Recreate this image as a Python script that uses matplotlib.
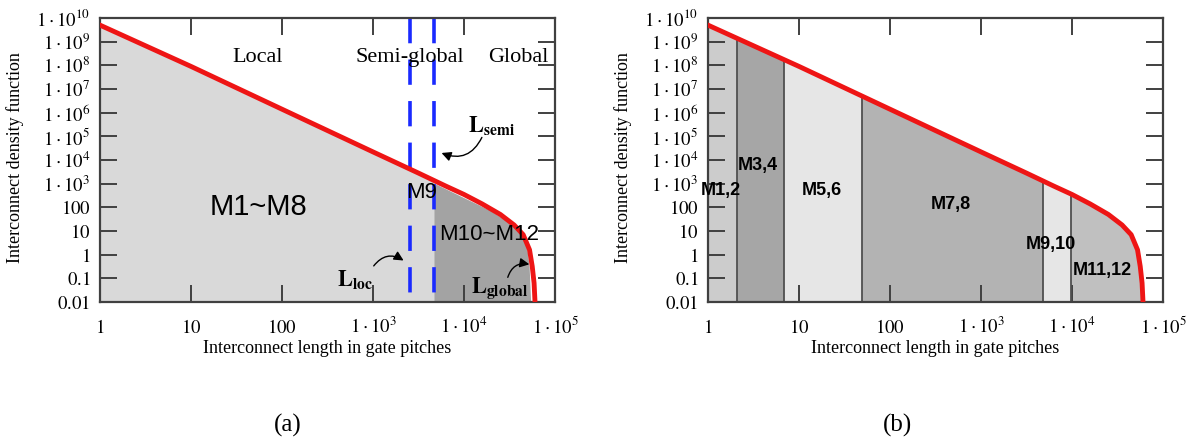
import matplotlib
matplotlib.use("Agg")
import matplotlib.pyplot as plt
from matplotlib.patches import Rectangle
from matplotlib.ticker import FixedLocator, NullLocator

plt.rcParams["font.family"] = ["Liberation Serif", "DejaVu Serif"]
plt.rcParams["mathtext.fontset"] = "stix"

########### DATA ###########
# interconnect density curve
curve_len = [1, 10, 100, 1000, 3160, 6310, 1.0e4, 1.58e4, 2.51e4, 3.55e4, 4.47e4, 5.25e4, 5.62e4, 5.89e4, 6.03e4]
curve_dens = [5e9, 9e7, 1.4e6, 2.2e4, 2.8e3, 7.9e2, 3.5e2, 1.4e2, 50, 18, 7, 1.6, 0.32, 0.063, 0.01]

# top of the dark "global" region in panel (a)
global_len = [4680, 2.0e4, 4.0e4, 4.8e4, 5.2e4, 5.4e4]
global_dens = [1.05e3, 70, 12, 4, 0.3, 0.01]

L_LOC = 2550
L_SEMI = 4680

# metal layer pairs in panel (b)
layer_edges = [1, 2.08, 6.8, 49, 4800, 9800, 1e5]
layer_names = ["M1,2", "M3,4", "M5,6", "M7,8", "M9,10", "M11,12"]

x_ticks = [1, 10, 100, 1e3, 1e4, 1e5]
x_tick_labels = [r"$1$", r"$10$", r"$100$", r"$1\cdot10^{3}$", r"$1\cdot10^{4}$", r"$1\cdot10^{5}$"]
y_ticks = [0.01, 0.1, 1, 10, 100, 1e3, 1e4, 1e5, 1e6, 1e7, 1e8, 1e9, 1e10]
y_tick_labels = [r"$0.01$", r"$0.1$", r"$1$", r"$10$", r"$100$", r"$1\cdot10^{3}$", r"$1\cdot10^{4}$",
                 r"$1\cdot10^{5}$", r"$1\cdot10^{6}$", r"$1\cdot10^{7}$", r"$1\cdot10^{8}$",
                 r"$1\cdot10^{9}$", r"$1\cdot10^{10}$"]
###################################################

LAYER_COLORS = ["#cccccc", "#a6a6a6", "#e6e6e6", "#b3b3b3", "#e6e6e6", "#c0c0c0"]
RED = "#ee1515"
SANS = ["Liberation Sans", "DejaVu Sans"]


def setup(ax):
    ax.set_xscale("log")
    ax.set_yscale("log")
    ax.set_xlim(1, 1e5)
    ax.set_ylim(0.01, 1e10)
    ax.xaxis.set_major_locator(FixedLocator(x_ticks))
    ax.yaxis.set_major_locator(FixedLocator(y_ticks))
    ax.xaxis.set_minor_locator(NullLocator())
    ax.yaxis.set_minor_locator(NullLocator())
    ax.set_xticklabels(x_tick_labels)
    ax.set_yticklabels(y_tick_labels)
    ax.tick_params(direction="in", length=12, width=1.4, color="#404040",
                   top=True, right=True, labelsize=13.5)
    ax.tick_params(axis="x", pad=22)
    ax.tick_params(axis="y", pad=7)
    for t in ax.get_xticklabels():
        t.set_va("baseline")
    for s in ax.spines.values():
        s.set_color("#404040")
        s.set_linewidth(1.6)
    ax.set_xlabel("Interconnect length in gate pitches", fontsize=13)
    ax.set_ylabel("Interconnect density function", fontsize=13)
    ax.xaxis.set_label_coords(0.5, -0.134)
    ax.yaxis.set_label_coords(-0.167, 0.507)


def clipped_fill(ax, xs, ys, x0, x1, color):
    poly = ax.fill_between(xs, ys, 0.01, color=color, lw=0, zorder=1)
    rect = Rectangle((x0, 1e-3), x1 - x0, 1e13, transform=ax.transData)
    poly.set_clip_path(rect)
    return poly


fig = plt.figure(figsize=(12.02, 4.43), dpi=100)
ax1 = fig.add_axes([100 / 1202, 1 - 302 / 443, 455 / 1202, 284 / 443])
ax2 = fig.add_axes([708 / 1202, 1 - 302 / 443, 455 / 1202, 284 / 443])

# ---------------- panel (a) ----------------
setup(ax1)
clipped_fill(ax1, curve_len, curve_dens, 1, L_SEMI, "#d9d9d9")
ax1.fill_between(global_len, global_dens, 0.01, color="#a3a3a3", lw=0, zorder=1)
for xv in (L_LOC, L_SEMI):
    ax1.plot([xv, xv], [1e10, 0.01], color="#1a2aff", lw=2.6, dashes=(7, 4.5), zorder=2)
ax1.plot(curve_len, curve_dens, color=RED, lw=3.5, zorder=3)

ax1.text(54.6, 2.2e8, "Local", fontsize=16, ha="center", va="center")
ax1.text(2560, 2.2e8, "Semi-global", fontsize=16, ha="center", va="center")
ax1.text(4e4, 2.2e8, "Global", fontsize=16, ha="center", va="center", clip_on=False)
ax1.text(54.5, 102, "M1~M8", fontsize=21, family=SANS, ha="center", va="center", zorder=4)
ax1.text(3460, 405, "M9", fontsize=16, family=SANS, ha="center", va="center", zorder=2.5)
ax1.text(1.88e4, 6.8, "M10~M12", fontsize=16, family=SANS, ha="center", va="center", zorder=4)

arrow = dict(arrowstyle="-|>", color="black", lw=1, mutation_scale=14)
ax1.text(631, 0.093, r"$\mathbf{L}_{\mathbf{loc}}$", fontsize=16, ha="center", va="center")
ax1.annotate("", xy=(2300, 0.49), xytext=(977, 0.27),
             arrowprops=dict(arrow, connectionstyle="arc3,rad=-0.5"))
ax1.text(2.03e4, 2.75e5, r"$\mathbf{L}_{\mathbf{semi}}$", fontsize=16, ha="center", va="center")
ax1.annotate("", xy=(5310, 2.2e4), xytext=(1.62e4, 1.15e5),
             arrowprops=dict(arrow, connectionstyle="arc3,rad=-0.5"))
ax1.text(2.5e4, 0.04, r"$\mathbf{L}_{\mathbf{global}}$", fontsize=16, ha="center", va="center")
ax1.annotate("", xy=(5.6e4, 0.37), xytext=(2.97e4, 0.085),
             arrowprops=dict(arrow, connectionstyle="arc3,rad=-0.5"))

# ---------------- panel (b) ----------------
setup(ax2)
for i, name in enumerate(layer_names):
    clipped_fill(ax2, curve_len, curve_dens, layer_edges[i], layer_edges[i + 1], LAYER_COLORS[i])
full = ax2.fill_between(curve_len, curve_dens, 0.01, color="none", lw=0)
vl = ax2.vlines(layer_edges[1:-1], 0.01, 1e10, color="#505050", lw=1.3, zorder=2)
vl.set_clip_path(full.get_paths()[0], ax2.transData)
ax2.plot(curve_len, curve_dens, color="#555555", lw=0.8, zorder=2)
ax2.plot(curve_len, curve_dens, color=RED, lw=3.5, zorder=3)

label_pos = [(1.39, 490), (3.55, 5600), (17.9, 490), (468, 138), (5880, 2.8), (2.14e4, 0.22)]
for name, (xp, yp) in zip(layer_names, label_pos):
    ax2.text(xp, yp, name, fontsize=13, family=SANS, fontweight="bold",
             ha="center", va="center", zorder=4, clip_on=False)

fig.text(288 / 1202, 1 - 425 / 443, "(a)", fontsize=18, ha="center", va="center")
fig.text(897 / 1202, 1 - 425 / 443, "(b)", fontsize=18, ha="center", va="center")

fig.savefig("out.png", dpi=100)
